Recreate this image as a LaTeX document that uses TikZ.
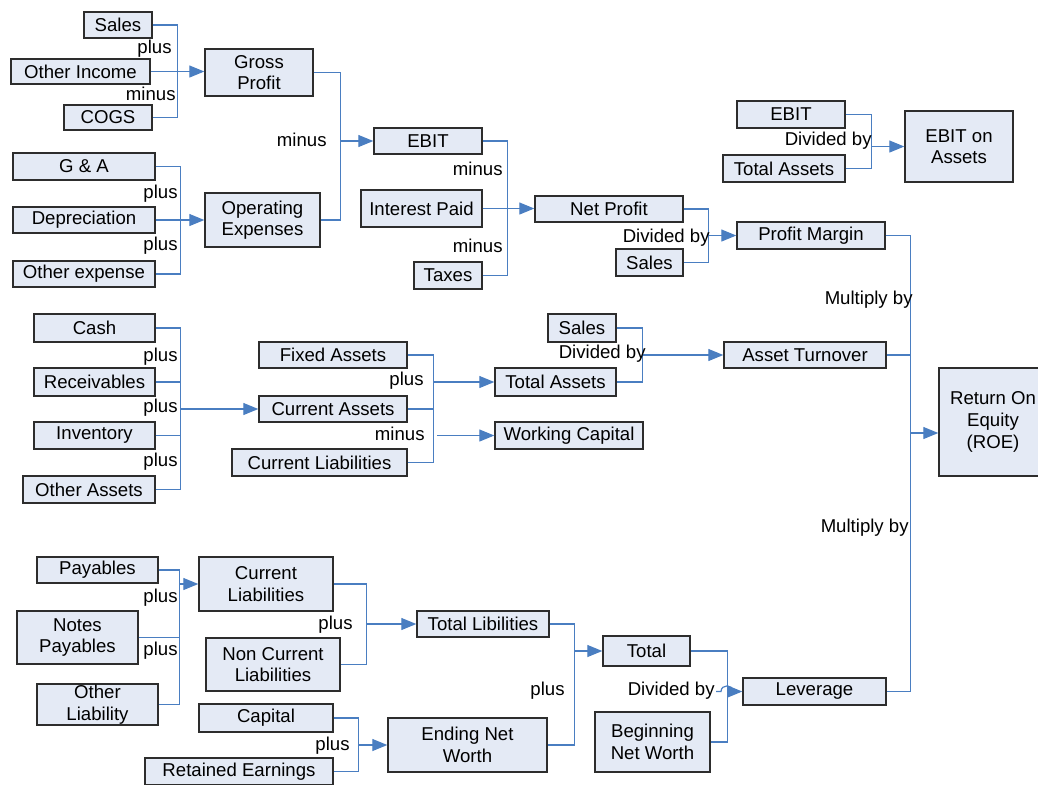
\documentclass[tikz,border=0pt]{standalone}
\usepackage{fontspec}
\setmainfont{Liberation Sans}
\usetikzlibrary{arrows.meta}
\definecolor{linkblue}{RGB}{74,126,193}
\definecolor{boxfill}{RGB}{228,234,245}
\definecolor{boxline}{RGB}{45,45,45}
\begin{document}
\begin{tikzpicture}[x=0.5pt,y=-0.5pt,
  font=\fontsize{9.3}{10.8}\selectfont,
  box/.style={draw=boxline, fill=boxfill, line width=0.7pt, inner sep=0pt, align=center},
  sz/.style 2 args={minimum width=#1*0.5pt, minimum height=#2*0.5pt},
  conn/.style={draw=linkblue, line width=0.6pt},
  arr/.style={conn, -{Triangle[length=7.5pt,width=6pt]}},
  lbl/.style={anchor=east, inner sep=0pt, text height=0.7em, text depth=0.15em}]
\useasboundingbox (0,0) rectangle (1038,784);

% ---------- boxes ----------
\node[box, sz={68}{26}]   (sales1)    at (118,25)     {Sales};
\node[box, sz={139}{25}]  (otherinc)  at (80.5,71.5)  {Other Income};
\node[box, sz={88}{25}]   (cogs)      at (108,117.5)  {COGS};
\node[box, sz={108}{47}]  (gross)     at (259,72.5)   {Gross\\Profit};
\node[box, sz={142}{27}]  (ga)        at (84,166.5)   {G \& A};
\node[box, sz={142}{26}]  (dep)       at (84,220)     {Depreciation};
\node[box, sz={142}{26}]  (othexp)    at (84,274)     {Other expense};
\node[box, sz={115}{54}]  (opex)      at (262.5,220)  {Operating\\Expenses};
\node[box, sz={108}{26}]  (ebit)      at (428,141)    {EBIT};
\node[box, sz={121}{37}]  (intpaid)   at (421.5,208.5){Interest Paid};
\node[box, sz={68}{27}]   (taxes)     at (448,275.5)  {Taxes};
\node[box, sz={148}{26}]  (netprofit) at (609,209)    {Net Profit};
\node[box, sz={67}{27}]   (sales2)    at (649.5,262.5){Sales};
\node[box, sz={108}{27}]  (ebit2)     at (791,114.5)  {EBIT};
\node[box, sz={122}{27}]  (totassets1) at (784,168.5) {Total Assets};
\node[box, sz={108}{71}]  (ebitassets) at (959,146.5) {EBIT on\\Assets};
\node[box, sz={148}{27}]  (profmargin) at (811,235.5) {Profit Margin};
\node[box, sz={121}{28}]  (cash)      at (94.5,328)   {Cash};
\node[box, sz={121}{28}]  (recv)      at (94.5,382)   {Receivables};
\node[box, sz={121}{27}]  (inv)       at (94.5,435.5) {Inventory};
\node[box, sz={132}{27}]  (othassets) at (89,489.5)   {Other Assets};
\node[box, sz={148}{26}]  (fixed)     at (333,355)    {Fixed Assets};
\node[box, sz={148}{26}]  (curassets) at (333,409)    {Current Assets};
\node[box, sz={175}{27}]  (curliab1)  at (319.5,462.5){Current Liabilities};
\node[box, sz={68}{28}]   (sales3)    at (582,328)    {Sales};
\node[box, sz={121}{28}]  (totassets2) at (555.5,382) {Total Assets};
\node[box, sz={148}{27}]  (workcap)   at (569,435.5)  {Working Capital};
\node[box, sz={162}{26}]  (assetturn) at (805,355)    {Asset Turnover};
\node[box, sz={108}{108}] (roe)       at (993,422)    {Return On\\Equity\\(ROE)};
\node[box, sz={121}{26}]  (payables)  at (97.5,570)   {Payables};
\node[box, sz={121}{53}]  (notes)     at (77.5,637.5) {Notes\\Payables};
\node[box, sz={121}{41}]  (othliab)   at (97.5,704.5) {Other\\Liability};
\node[box, sz={134}{54}]  (curliab2)  at (266,584)    {Current\\Liabilities};
\node[box, sz={134}{53}]  (noncur)    at (273,664.5)  {Non Current\\Liabilities};
\node[box, sz={134}{28}]  (capital)   at (266,718)    {Capital};
\node[box, sz={188}{27}]  (retained)  at (239,771.5)  {Retained Earnings};
\node[box, sz={132}{26}]  (totlib)    at (483,624)    {Total Libilities};
\node[box, sz={159}{54}]  (enw)       at (467.5,745)  {Ending Net\\Worth};
\node[box, sz={87}{30}]   (total)     at (646.5,651)  {Total};
\node[box, sz={115}{60}]  (bnw)       at (652.5,742)  {Beginning\\Net Worth};
\node[box, sz={143}{27}]  (leverage)  at (814.5,691.5){Leverage};

% ---------- junction points ----------
\coordinate (jebit) at (340,141);
\coordinate (jpm)   at (708,235.5);
\coordinate (jea)   at (871,146.5);
\coordinate (jroe)  at (910,433);
\coordinate (jca)   at (180,409);
\coordinate (jta)   at (433,382);
\coordinate (jwc)   at (437,435.5);
\coordinate (jat)   at (642,355);
\coordinate (jcl)   at (179,584);
\coordinate (jtl)   at (366,624);
\coordinate (jenw)  at (358,745);
\coordinate (jtot)  at (574,651);
\coordinate (jlev)  at (716,691.5);

% ---------- connectors ----------
\draw[conn] (sales1.east) -- ++(25,0) |- (cogs.east);
\draw[arr]  (otherinc.east) -- (otherinc.east -| gross.west);
\draw[conn] (ga.east) -- ++(25,0) |- (othexp.east);
\draw[arr]  (dep.east) -- (opex.west);
\draw[conn] (gross.east) -- ++(27,0) |- (opex.east);
\draw[arr]  (jebit) -- (ebit.west);
\draw[conn] (ebit.east) -- ++(25,0) |- (taxes.east);
\draw[arr]  (intpaid.east) -- (intpaid.east -| netprofit.west);
\draw[conn] (netprofit.east) -- ++(25,0) |- (sales2.east);
\draw[arr]  (jpm) -- (profmargin.west);
\draw[conn] (ebit2.east) -- ++(26,0) |- (totassets1.east);
\draw[arr]  (jea) -- (jea -| ebitassets.west);
\draw[conn] (profmargin.east) -- ++(25,0) |- (leverage.east);
\draw[conn] (assetturn.east) -- ++(24,0);
\draw[arr]  (jroe) -- (jroe -| roe.west);
\draw[conn] (cash.east) -- ++(25,0) |- (othassets.east);
\draw[conn] (recv.east) -- ++(25,0);
\draw[conn] (inv.east) -- ++(25,0);
\draw[arr]  (jca) -- (curassets.west);
\draw[conn] (fixed.east) -- ++(26,0) |- (curliab1.east);
\draw[conn] (curassets.east) -- ++(26,0);
\draw[arr]  (jta) -- (totassets2.west);
\draw[arr]  (jwc) -- (workcap.west);
\draw[conn] (sales3.east) -- ++(26,0) |- (totassets2.east);
\draw[arr]  (jat) -- (assetturn.west);
\draw[conn] (payables.east) -- ++(21,0) |- (othliab.east);
\draw[conn] (notes.east) -- ++(41,0);
\draw[arr]  (jcl) -- (curliab2.west);
\draw[conn] (curliab2.east) -- ++(33,0) |- (noncur.east);
\draw[arr]  (jtl) -- (jtl -| totlib.west);
\draw[conn] (capital.east) -- ++(25,0) |- (retained.east);
\draw[arr]  (jenw) -- (enw.west);
\draw[conn] (totlib.east) -- ++(25,0) |- (enw.east);
\draw[arr]  (jtot) -- (total.west);
\draw[conn] (total.east) -- ++(37,0) |- (bnw.east);
\draw[arr]  (jlev) -- (721,691.5) .. controls (721,684) and (733,684) .. (733,691.5) -- (leverage.west);

% ---------- labels ----------
\node[lbl] (l1)  at (172,48)  {plus};
\node[lbl] (l2)  at (176,95)  {minus};
\node[lbl] (l3)  at (178,193) {plus};
\node[lbl] (l4)  at (178,245) {plus};
\node[lbl] (l5)  at (327,141) {minus};
\node[lbl] (l6)  at (503,170) {minus};
\node[lbl] (l7)  at (503,247) {minus};
\node[lbl] (l8)  at (710,237) {Divided by};
\node[lbl] (l9)  at (872,140) {Divided by};
\node[lbl] (l10) at (913,299) {Multiply by};
\node[lbl] (l11) at (909,527) {Multiply by};
\node[lbl] (l12) at (178,356) {plus};
\node[lbl] (l13) at (178,407) {plus};
\node[lbl] (l14) at (178,461) {plus};
\node[lbl] (l15) at (424,380) {plus};
\node[lbl] (l16) at (425,435) {minus};
\node[lbl] (l17) at (646,353) {Divided by};
\node[lbl] (l18) at (178,597) {plus};
\node[lbl] (l19) at (178,650) {plus};
\node[lbl] (l20) at (353,624) {plus};
\node[lbl] (l21) at (350,745) {plus};
\node[lbl] (l22) at (565,690) {plus};
\node[lbl] (l23) at (715,690) {Divided by};
\end{tikzpicture}
\end{document}
